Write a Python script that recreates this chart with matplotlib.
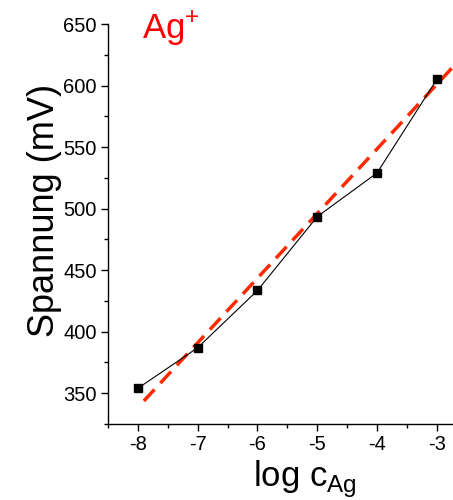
import matplotlib
matplotlib.use("Agg")
import matplotlib.pyplot as plt
import numpy as np
from matplotlib.ticker import MultipleLocator

log_c = [-8, -7, -6, -5, -4, -3]
spannung = [354, 387, 433.5, 493.5, 529, 605]
fit_slope = 52.5
fit_intercept = 758.5
fit_range = [-7.9, -2.6]

sans = ['Liberation Sans', 'DejaVu Sans']
plt.rcParams['font.family'] = sans

fig = plt.figure(figsize=(4.53, 5.0), dpi=100)
ax = fig.add_axes([108/453, 1-424/500, 1-108/453, 400/500])

ax.plot(log_c, spannung, color='black', lw=0.8, marker='s', ms=6,
        mfc='black', mec='black', zorder=3)
fx = np.array(fit_range)
ax.plot(fx, fit_slope*fx + fit_intercept, color='#ff2a00', lw=2.5,
        dashes=(4.5, 2.5), zorder=2)

ax.set_xlim(-8.5, -2.73)
ax.set_ylim(325, 650)
ax.xaxis.set_minor_locator(MultipleLocator(0.5))
ax.yaxis.set_minor_locator(MultipleLocator(25))
ax.set_yticks([350, 400, 450, 500, 550, 600, 650])
ax.set_xticks(log_c)
ax.set_xticklabels([str(v) for v in log_c])
for s in ['top', 'right']:
    ax.spines[s].set_visible(False)
for s in ['left', 'bottom']:
    ax.spines[s].set_linewidth(1.0)
ax.tick_params(which='major', direction='out', length=5, width=1, labelsize=14.5, pad=3)
ax.tick_params(which='minor', direction='out', length=3, width=1)

ax.set_ylabel('Spannung (mV)', fontsize=26)
ax.yaxis.set_label_coords(-0.133, 0.535)
ax.text(0.571, -0.1575, 'log c$_{\\mathregular{Ag}}$', transform=ax.transAxes,
        fontsize=25, ha='center', va='baseline')
ax.text(142/453, 1-38/500, 'Ag$^{\\mathregular{+}}$', transform=fig.transFigure,
        fontsize=25, color='#ff0000', ha='left', va='baseline')

fig.savefig('out.png', dpi=100)
